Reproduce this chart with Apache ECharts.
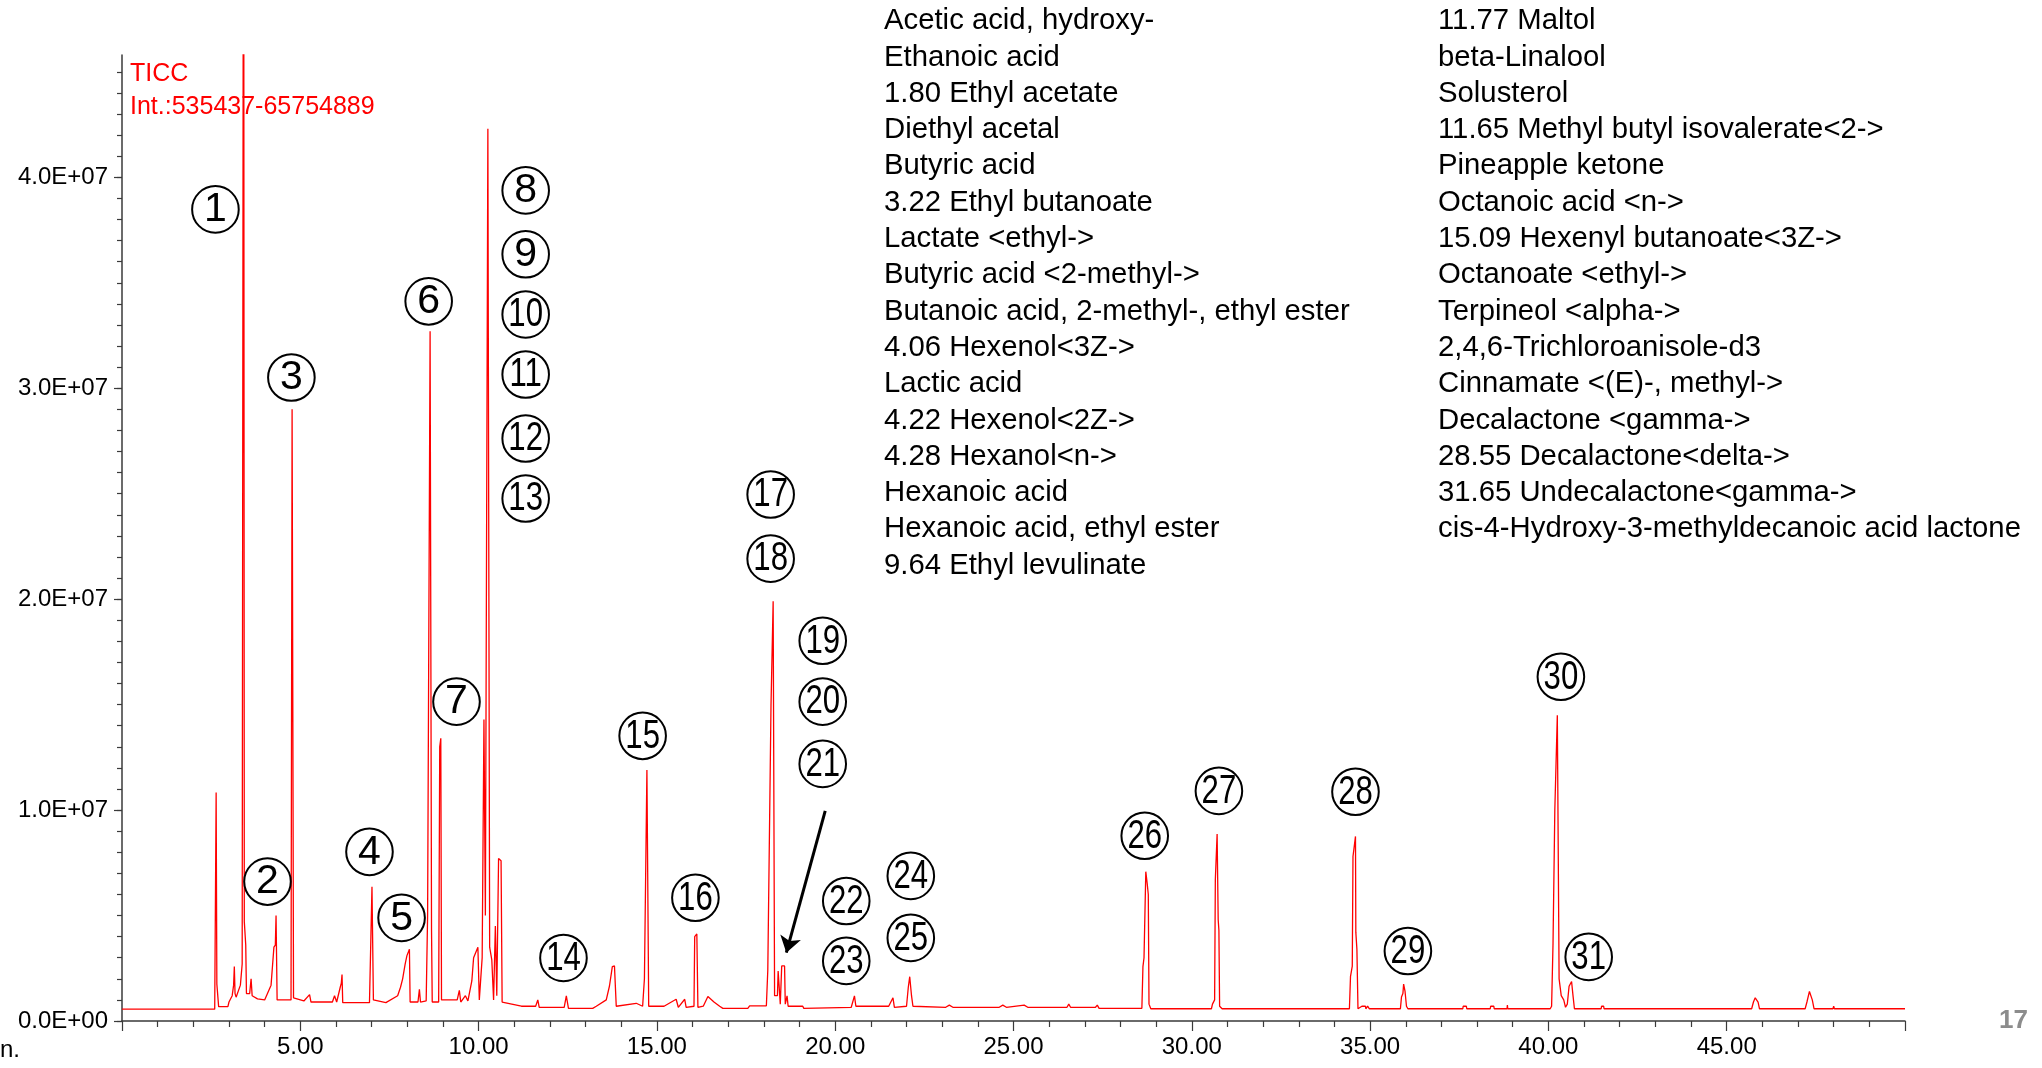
<!DOCTYPE html>
<html><head><meta charset="utf-8">
<script src="https://cdn.jsdelivr.net/npm/echarts@6/dist/echarts.min.js"></script>
<style>html,body{margin:0;padding:0;background:#fff}#c{width:2042px;height:1068px}</style>
</head><body><div id="c"></div>
<script>
// Chromatogram trace: [retention time (min), intensity in units of 1E+07]
const tracePoints = [
 [0.00,0.056],[2.60,0.056],[2.62,0.06],[2.64,1.083],[2.66,0.175],[2.71,0.068],[2.97,0.068],[3.00,0.09],
 [3.09,0.12],[3.13,0.17],[3.15,0.258],[3.17,0.13],[3.20,0.113],[3.32,0.17],[3.37,0.27],[3.41,6.58],
 [3.43,0.47],[3.47,0.36],[3.49,0.13],[3.58,0.13],[3.62,0.20],[3.65,0.12],[3.80,0.105],[4.00,0.10],
 [4.18,0.17],[4.26,0.35],[4.30,0.36],[4.32,0.50],[4.35,0.10],[4.74,0.10],[4.77,2.90],[4.81,0.11],
 [5.10,0.095],[5.26,0.125],[5.30,0.09],[5.90,0.09],[5.96,0.12],[6.02,0.09],[6.12,0.16],[6.15,0.18],
 [6.17,0.22],[6.19,0.087],[6.94,0.087],[6.98,0.40],[7.01,0.636],[7.05,0.10],[7.40,0.087],[7.73,0.12],
 [7.81,0.16],[7.87,0.20],[7.94,0.27],[7.99,0.31],[8.06,0.34],[8.08,0.09],[8.30,0.09],[8.34,0.15],
 [8.37,0.09],[8.53,0.095],[8.57,0.50],[8.64,3.27],[8.68,0.43],[8.70,0.09],[8.88,0.09],[8.91,1.30],
 [8.94,1.34],[8.96,0.10],[9.40,0.10],[9.46,0.145],[9.50,0.09],[9.63,0.12],[9.70,0.095],[9.81,0.19],
 [9.86,0.30],[9.98,0.35],[10.02,0.10],[10.10,0.30],[10.15,1.43],[10.19,0.50],[10.26,4.23],[10.31,0.35],
 [10.37,0.29],[10.42,0.10],[10.47,0.45],[10.51,0.12],[10.56,0.77],[10.63,0.76],[10.66,0.09],[11.20,0.07],
 [11.60,0.07],[11.66,0.10],[11.70,0.065],[12.40,0.065],[12.46,0.119],[12.52,0.06],[13.20,0.06],[13.30,0.07],
 [13.58,0.10],[13.67,0.166],[13.75,0.258],[13.81,0.261],[13.86,0.07],[14.42,0.084],[14.60,0.07],[14.65,0.20],
 [14.72,1.19],[14.77,0.07],[15.20,0.07],[15.54,0.103],[15.60,0.065],[15.78,0.103],[15.82,0.065],[16.04,0.07],
 [16.06,0.40],[16.12,0.413],[16.15,0.065],[16.30,0.07],[16.43,0.116],[16.60,0.09],[16.76,0.07],[16.85,0.06],
 [17.55,0.06],[17.60,0.072],[18.07,0.072],[18.11,0.242],[18.20,1.50],[18.26,1.99],[18.30,0.12],[18.38,0.12],
 [18.40,0.237],[18.44,0.237],[18.46,0.08],[18.50,0.261],[18.58,0.261],[18.60,0.08],[18.65,0.119],[18.68,0.07],
 [19.09,0.07],[19.12,0.06],[20.45,0.065],[20.54,0.119],[20.58,0.07],[21.50,0.07],[21.62,0.11],[21.66,0.065],
 [22.00,0.07],[22.05,0.16],[22.09,0.21],[22.14,0.12],[22.18,0.07],[23.10,0.065],[23.20,0.075],[23.30,0.065],
 [24.60,0.065],[24.70,0.075],[24.80,0.065],[25.30,0.075],[25.40,0.065],[26.50,0.065],[26.55,0.08],[26.60,0.065],
 [27.30,0.065],[27.35,0.075],[27.40,0.06],[28.60,0.06],[28.63,0.258],[28.66,0.30],[28.71,0.708],[28.75,0.65],
 [28.78,0.60],[28.80,0.08],[28.85,0.058],[30.55,0.058],[30.58,0.08],[30.64,0.10],[30.66,0.67],[30.71,0.886],
 [30.74,0.48],[30.76,0.43],[30.78,0.07],[30.85,0.058],[34.42,0.058],[34.45,0.21],[34.50,0.26],[34.52,0.78],
 [34.59,0.875],[34.60,0.42],[34.63,0.34],[34.66,0.058],[34.77,0.07],[34.87,0.07],[34.88,0.058],[34.93,0.07],
 [34.97,0.07],[34.98,0.058],[35.85,0.058],[35.88,0.114],[35.92,0.13],[35.94,0.175],[35.98,0.14],[36.02,0.07],
 [36.06,0.058],[37.60,0.058],[37.61,0.07],[37.70,0.07],[37.71,0.058],[38.37,0.058],[38.38,0.07],[38.47,0.07],
 [38.48,0.058],[38.84,0.058],[38.85,0.075],[38.86,0.058],[40.05,0.058],[40.09,0.07],[40.13,0.37],[40.18,1.00],
 [40.25,1.45],[40.30,0.20],[40.36,0.12],[40.43,0.10],[40.48,0.065],[40.53,0.08],[40.58,0.165],[40.65,0.187],
 [40.69,0.12],[40.73,0.058],[41.48,0.058],[41.49,0.07],[41.55,0.07],[41.56,0.058],[45.70,0.058],[45.75,0.09],
 [45.80,0.11],[45.88,0.09],[45.92,0.058],[47.20,0.058],[47.25,0.09],[47.32,0.14],[47.40,0.10],[47.45,0.058],
 [47.98,0.058],[48.00,0.07],[48.02,0.058],[50.00,0.058]
];
// Circled peak numbers and where they sit: [retention time (min), intensity in units of 1E+07]
const peakNumbers = [1,2,3,4,5,6,7,8,9,10,11,12,13,14,15,16,17,18,19,20,21,22,23,24,25,26,27,28,29,30,31];
const peakLabelPos = [
 [2.62,3.848],[4.08,0.661],[4.75,3.051],[6.94,0.802],[7.84,0.489],[8.60,3.412],[9.38,1.514],
 [11.32,3.938],[11.32,3.635],[11.32,3.350],[11.32,3.065],[11.32,2.762],[11.32,2.477],
 [12.38,0.299],[14.60,1.352],[16.08,0.584],[18.19,2.496],[18.19,2.192],
 [19.65,1.803],[19.65,1.514],[19.65,1.219],[20.31,0.569],[20.31,0.285],[22.12,0.688],[22.12,0.394],
 [28.68,0.878],[30.76,1.091],[34.59,1.087],[36.06,0.332],[40.35,1.632],[41.13,0.304]
];
const arrowFrom = [19.72, 0.996];
const arrowTo = [18.63, 0.324];
const legendLines = ['TICC', 'Int.:535437-65754889'];
const compoundsLeft = [
 'Acetic acid, hydroxy-','Ethanoic acid','1.80 Ethyl acetate','Diethyl acetal','Butyric acid',
 '3.22 Ethyl butanoate','Lactate <ethyl->','Butyric acid <2-methyl->','Butanoic acid, 2-methyl-, ethyl ester',
 '4.06 Hexenol<3Z->','Lactic acid','4.22 Hexenol<2Z->','4.28 Hexanol<n->','Hexanoic acid',
 'Hexanoic acid, ethyl ester','9.64 Ethyl levulinate'
];
const compoundsRight = [
 '11.77 Maltol','beta-Linalool','Solusterol','11.65 Methyl butyl isovalerate<2->','Pineapple ketone',
 'Octanoic acid <n->','15.09 Hexenyl butanoate<3Z->','Octanoate <ethyl->','Terpineol <alpha->',
 '2,4,6-Trichloroanisole-d3','Cinnamate <(E)-, methyl->','Decalactone <gamma->','28.55 Decalactone<delta->',
 '31.65 Undecalactone<gamma->','cis-4-Hydroxy-3-methyldecanoic acid lactone'
];
const yMajorTicks = [0, 1e7, 2e7, 3e7, 4e7];
const yMinorTicks = Array.from({length: 46}, (_, i) => i * 1e6);
const pageNumber = '17';

const E7 = 1e7;
const chart = echarts.init(document.getElementById('c'), null, {renderer: 'canvas'});
const axisCol = '#3a3a3a';
const baseFont = '"Liberation Sans", Arial, sans-serif';

chart.setOption({
  animation: false,
  backgroundColor: '#fff',
  grid: {left: 122, right: 137, top: 55, bottom: 47},
  xAxis: {
    type: 'value', min: 0, max: 50, interval: 5,
    axisLine: {show: true, lineStyle: {color: axisCol, width: 1.5}},
    axisTick: {show: true, length: 10, lineStyle: {color: axisCol, width: 1.2}},
    minorTick: {show: true, splitNumber: 5, length: 6, lineStyle: {color: axisCol, width: 1.2}},
    splitLine: {show: false},
    axisLabel: {showMinLabel: false, showMaxLabel: false, margin: 14, color: '#000', fontSize: 24,
      fontFamily: baseFont, formatter: v => v.toFixed(2)}
  },
  yAxis: [{
    type: 'value', min: 0, max: 4.58e7, interval: 1e7,
    axisLine: {show: true, lineStyle: {color: axisCol, width: 1.5}},
    axisTick: {show: true, length: 8, customValues: yMajorTicks, lineStyle: {color: axisCol, width: 1.2}},
    splitLine: {show: false},
    axisLabel: {customValues: yMajorTicks, margin: 14, color: '#000', fontSize: 24, fontFamily: baseFont,
      formatter: v => (v === 0 ? '0.0E+00' : (v / E7).toFixed(1) + 'E+07')}
  }, {
    type: 'value', min: 0, max: 4.58e7, position: 'left',
    axisLine: {show: false},
    axisTick: {show: true, length: 5, customValues: yMinorTicks, lineStyle: {color: axisCol, width: 1.2}},
    axisLabel: {show: false},
    splitLine: {show: false}
  }],
  series: [{
    type: 'line', name: 'TICC', yAxisIndex: 0,
    data: tracePoints.map(p => [p[0], p[1] * E7]),
    showSymbol: false, symbol: 'none', clip: true,
    lineStyle: {color: '#ff0000', width: 1.3}, z: 2
  }, {
    type: 'custom', yAxisIndex: 0,
    data: peakLabelPos.map((p, i) => [p[0], p[1] * E7, peakNumbers[i]]),
    renderItem: (params, api) => {
      const pt = api.coord([api.value(0), api.value(1)]);
      const n = api.value(2);
      return {type: 'group', children: [
        {type: 'circle', shape: {cx: pt[0], cy: pt[1], r: 23.3},
          style: {fill: 'none', stroke: '#000', lineWidth: 2}},
        {type: 'text', x: pt[0], y: pt[1] + 0.5, scaleX: n > 9 ? 0.76 : 1,
          style: {text: String(n), fill: '#000', font: '41px ' + baseFont,
            align: 'center', verticalAlign: 'middle'}}
      ]};
    },
    silent: true, clip: false, z: 5
  }, {
    type: 'lines', coordinateSystem: 'cartesian2d', yAxisIndex: 0,
    data: [{coords: [[arrowFrom[0], arrowFrom[1] * E7], [arrowTo[0], arrowTo[1] * E7]]}],
    symbol: ['none', 'arrow'], symbolSize: 16,
    lineStyle: {color: '#000', width: 3, opacity: 1}, z: 6, silent: true
  }],
  graphic: [
    {type: 'text', left: 130, top: 58, style: {text: legendLines.join('\n'), fill: '#ff0000',
      font: '25px ' + baseFont, lineHeight: 33}},
    {type: 'text', left: 884, top: 3, style: {text: compoundsLeft.join('\n'), fill: '#000',
      font: '29.3px ' + baseFont, lineHeight: 36.3}},
    {type: 'text', left: 1438, top: 3, style: {text: compoundsRight.join('\n'), fill: '#000',
      font: '29.3px ' + baseFont, lineHeight: 36.3}},
    {type: 'text', left: 0, top: 1038, style: {text: 'n.', fill: '#000', font: '24px ' + baseFont}},
    {type: 'text', right: 14, top: 1008, style: {text: pageNumber, fill: '#8c8c8c', font: 'bold 26px ' + baseFont}}
  ]
});
</script></body></html>
